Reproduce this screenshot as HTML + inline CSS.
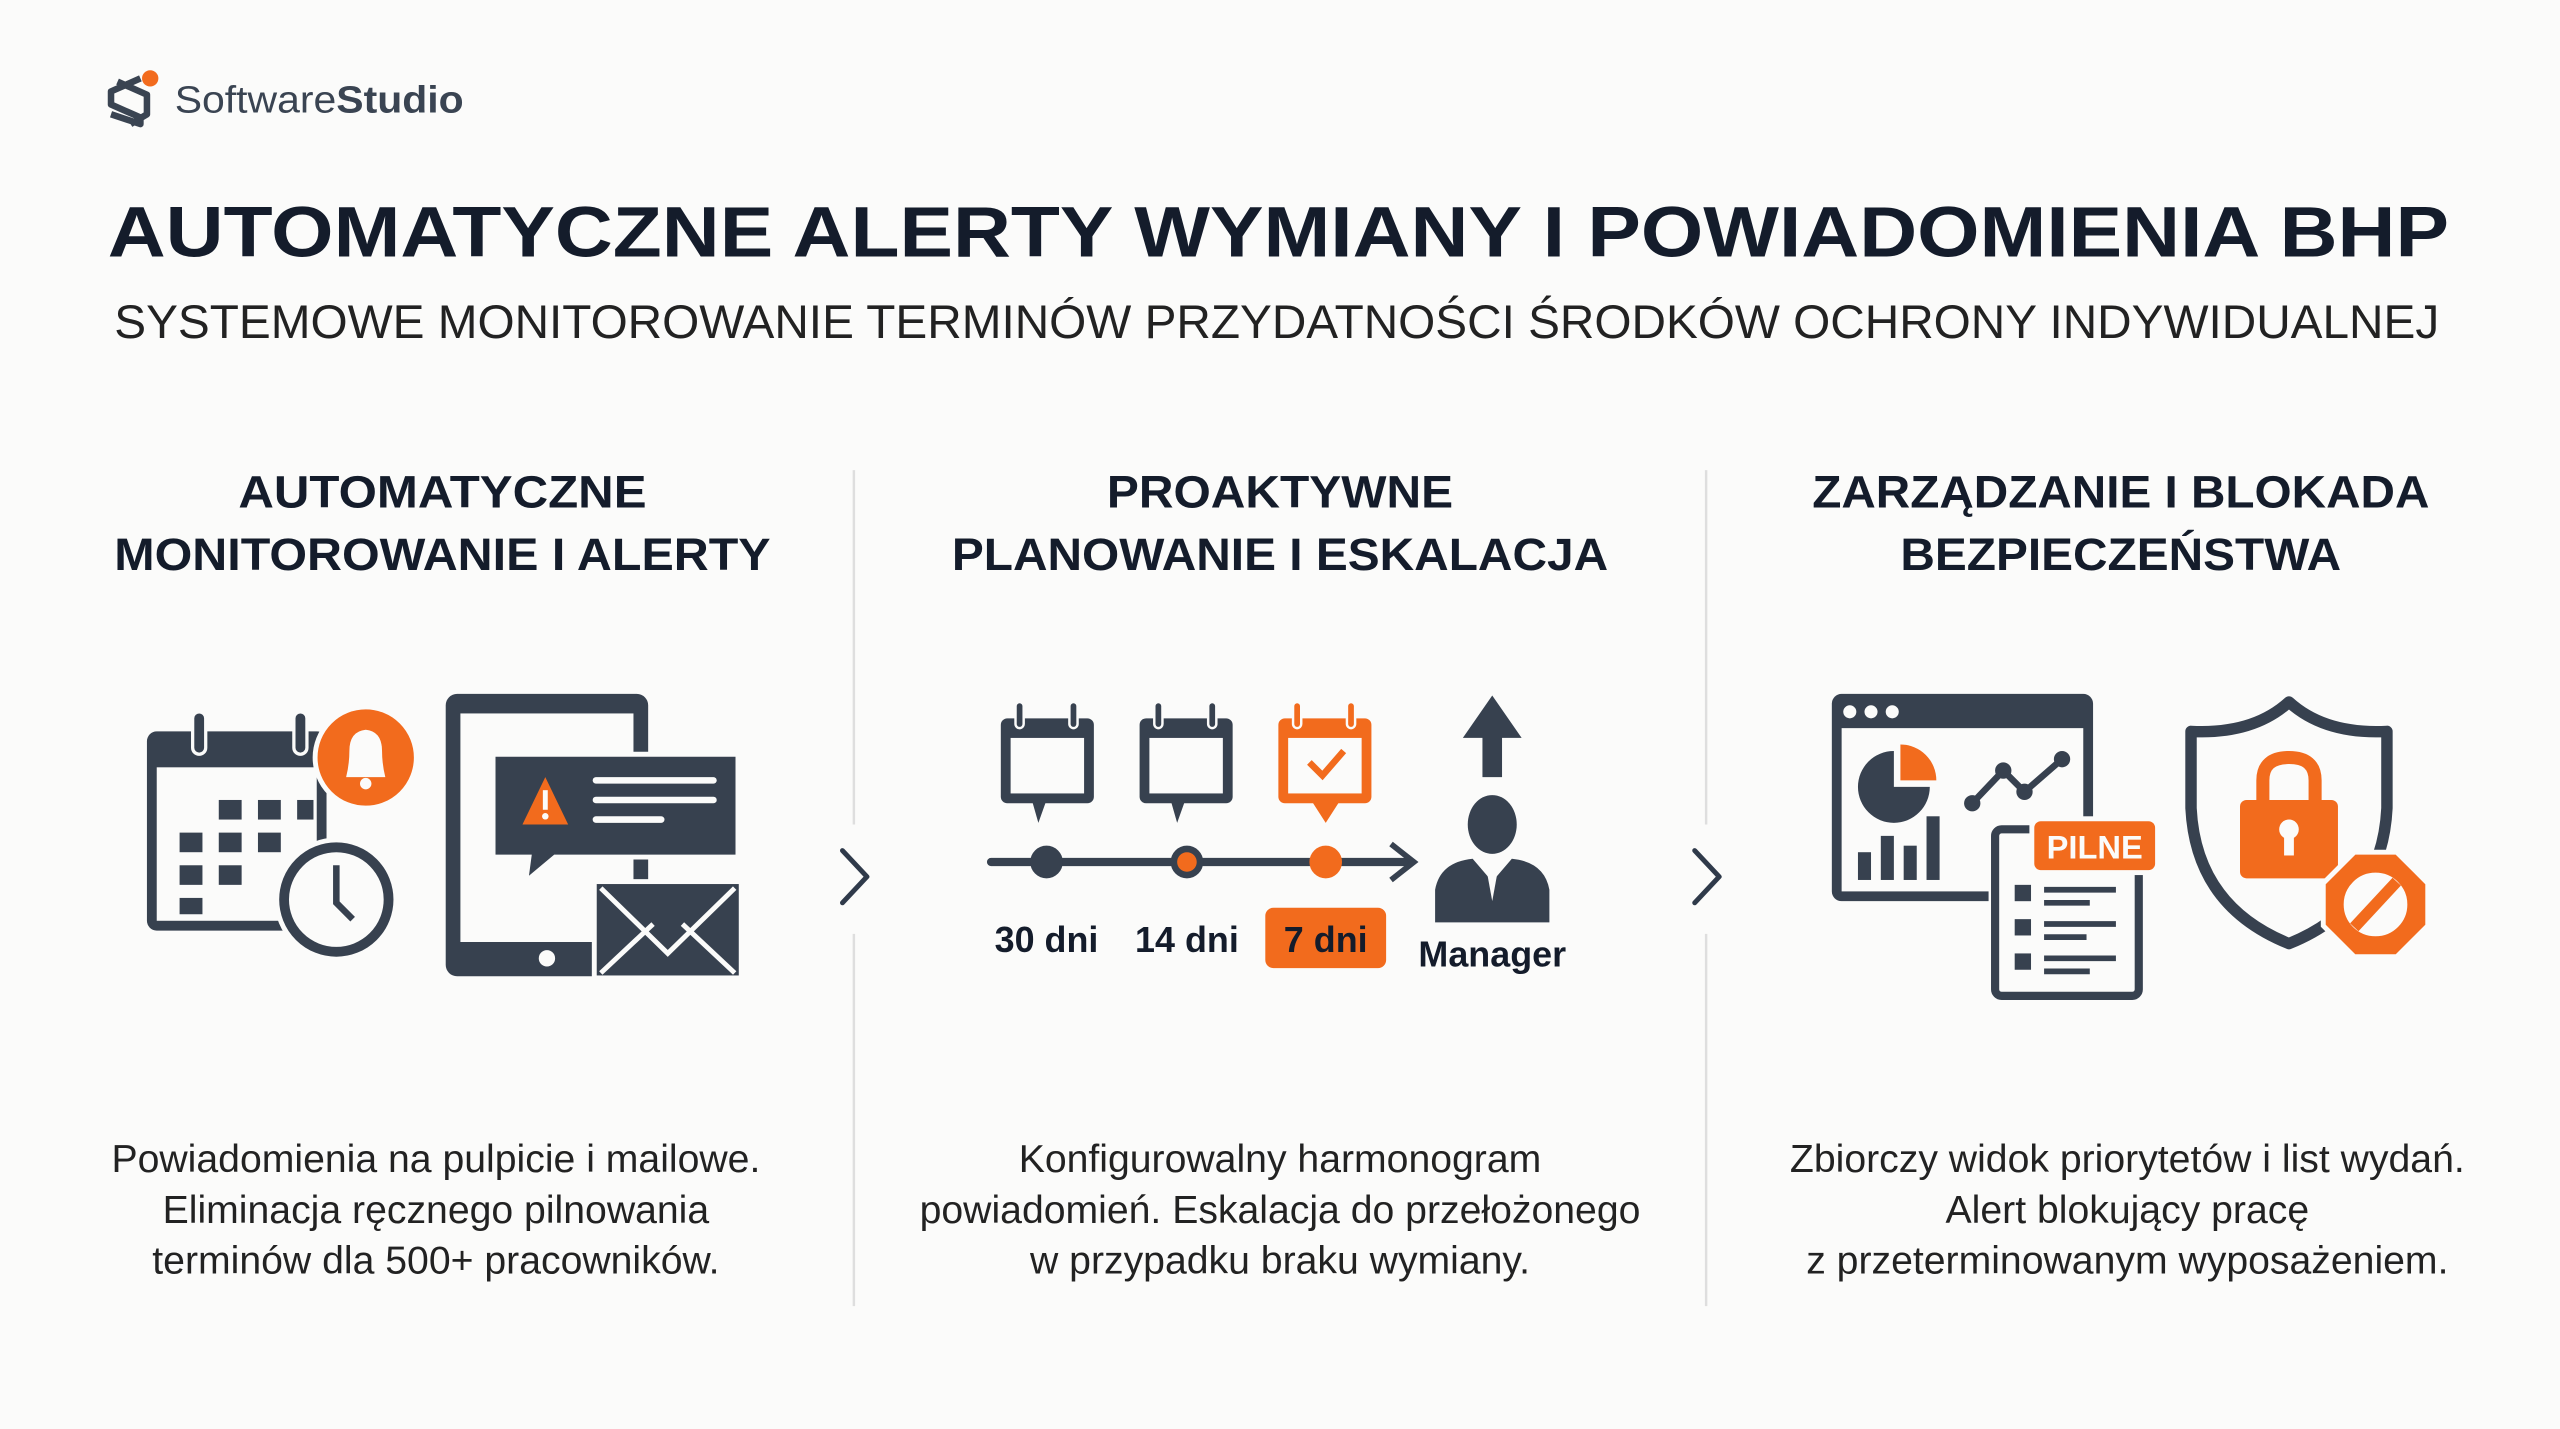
<!DOCTYPE html>
<html><head><meta charset="utf-8"><style>
html,body{margin:0;padding:0;background:#fbfbfa;}
svg{display:block;}
text{font-family:"Liberation Sans",sans-serif;}
</style></head><body>
<svg width="2560" height="1429" viewBox="0 0 1568 875.3" preserveAspectRatio="none" xmlns="http://www.w3.org/2000/svg">
<rect width="1568" height="876" fill="#fbfbfa"/>
<g fill="none" stroke="#3a4452" stroke-width="4" stroke-linejoin="round">
<path d="M86 48 L68 56 L68 64 L86 72 L86 76 L68 70"/>
<path d="M72 50 L90 58 L90 70 L80 76"/>
</g>
<circle cx="92" cy="48" r="5" fill="#f26b1d"/>
<text x="107" y="69" font-size="23" fill="#3a4452" textLength="177" lengthAdjust="spacingAndGlyphs">Software<tspan font-weight="bold">Studio</tspan></text>
<text x="783" y="157" font-size="44" font-weight="bold" fill="#141c2b" text-anchor="middle" textLength="1434" lengthAdjust="spacingAndGlyphs">AUTOMATYCZNE ALERTY WYMIANY I POWIADOMIENIA BHP</text>
<text x="782" y="207" font-size="29" fill="#222" text-anchor="middle" textLength="1424" lengthAdjust="spacingAndGlyphs">SYSTEMOWE MONITOROWANIE TERMINÓW PRZYDATNOŚCI ŚRODKÓW OCHRONY INDYWIDUALNEJ</text>
<g font-size="28" font-weight="bold" fill="#141c2b" text-anchor="middle">
<text x="271" y="311" textLength="250" lengthAdjust="spacingAndGlyphs">AUTOMATYCZNE</text>
<text x="271" y="349" textLength="402" lengthAdjust="spacingAndGlyphs">MONITOROWANIE I ALERTY</text>
<text x="784" y="311" textLength="212" lengthAdjust="spacingAndGlyphs">PROAKTYWNE</text>
<text x="784" y="349" textLength="402" lengthAdjust="spacingAndGlyphs">PLANOWANIE I ESKALACJA</text>
<text x="1299" y="311" textLength="378" lengthAdjust="spacingAndGlyphs">ZARZĄDZANIE I BLOKADA</text>
<text x="1299" y="349" textLength="270" lengthAdjust="spacingAndGlyphs">BEZPIECZEŃSTWA</text>
</g>
<g stroke="#dedede" stroke-width="1.5">
<line x1="523" y1="288" x2="523" y2="505"/><line x1="523" y1="572" x2="523" y2="800"/>
<line x1="1045" y1="288" x2="1045" y2="505"/><line x1="1045" y1="572" x2="1045" y2="800"/>
</g>
<g fill="none" stroke="#2f3a4a" stroke-width="3" stroke-linecap="round" stroke-linejoin="round">
<path d="M516 521 L531 537 L516 553"/><path d="M1038 521 L1053 537 L1038 553"/>
</g>
<g font-size="24" fill="#222" text-anchor="middle">
<text x="267" y="718">Powiadomienia na pulpicie i mailowe.</text>
<text x="267" y="749">Eliminacja ręcznego pilnowania</text>
<text x="267" y="780">terminów dla 500+ pracowników.</text>
<text x="784" y="718">Konfigurowalny harmonogram</text>
<text x="784" y="749">powiadomień. Eskalacja do przełożonego</text>
<text x="784" y="780">w przypadku braku wymiany.</text>
<text x="1303" y="718">Zbiorczy widok priorytetów i list wydań.</text>
<text x="1303" y="749">Alert blokujący pracę</text>
<text x="1303" y="780">z przeterminowanym wyposażeniem.</text>
</g>
<g fill="#37414f">
<rect x="90" y="448" width="110" height="122" rx="6"/>
<rect x="96" y="470" width="98" height="94" fill="#fbfbfa"/>
<rect x="118" y="436" width="8" height="26" rx="4" stroke="#fbfbfa" stroke-width="2"/>
<rect x="180" y="436" width="8" height="26" rx="4" stroke="#fbfbfa" stroke-width="2"/>
<rect x="134" y="490" width="14" height="12"/><rect x="158" y="490" width="14" height="12"/><rect x="182" y="490" width="10" height="12"/>
<rect x="110" y="510" width="14" height="12"/><rect x="134" y="510" width="14" height="12"/><rect x="158" y="510" width="14" height="12"/>
<rect x="110" y="530" width="14" height="12"/><rect x="134" y="530" width="14" height="12"/>
<rect x="110" y="550" width="14" height="10"/>
</g>
<circle cx="206" cy="551" r="38" fill="#fbfbfa"/>
<circle cx="206" cy="551" r="32" fill="none" stroke="#37414f" stroke-width="6"/>
<path d="M206 530 L206 553 L216 563" fill="none" stroke="#37414f" stroke-width="4"/>
<circle cx="224" cy="464" r="31" fill="#f26b1d" stroke="#fbfbfa" stroke-width="3"/>
<path d="M212 476 Q214 468 214 460 Q214 448 224 447 Q234 448 234 460 Q234 468 236 476 Z" fill="#fbfbfa"/>
<circle cx="224" cy="480" r="3.5" fill="#fbfbfa"/>
<rect x="273" y="425" width="124" height="173" rx="7" fill="#37414f"/>
<rect x="282" y="437" width="106" height="140" fill="#fbfbfa"/>
<circle cx="335" cy="587" r="5" fill="#fbfbfa"/>
<path d="M302 462 H452 V525 H340 L322 540 L324 525 H302 Z" fill="#37414f" stroke="#fbfbfa" stroke-width="3"/>
<path d="M334 476 L348 505 H320 Z" fill="#f26b1d"/>
<rect x="332.5" y="484" width="3" height="12" fill="#fbfbfa"/><circle cx="334" cy="500" r="2" fill="#fbfbfa"/>
<g stroke="#fbfbfa" stroke-width="4" stroke-linecap="round"><line x1="365" y1="478" x2="437" y2="478"/><line x1="365" y1="490" x2="437" y2="490"/><line x1="365" y1="502" x2="405" y2="502"/></g>
<line x1="392" y1="527" x2="392" y2="540" stroke="#37414f" stroke-width="3"/>
<rect x="364" y="540" width="90" height="59" fill="#37414f" stroke="#fbfbfa" stroke-width="3"/>
<path d="M368 544 L409 584 L450 544 M368 596 L400 566 M450 596 L418 566" fill="none" stroke="#fbfbfa" stroke-width="3"/>
<g id="cal">
<rect x="613" y="440" width="57" height="52" rx="4" fill="#37414f"/>
<rect x="619" y="452" width="45" height="34" fill="#fbfbfa"/>
<path d="M632 490 L641 490 L636 504 Z" fill="#37414f"/>
<rect x="622" y="430" width="5" height="16" rx="2.5" fill="#37414f" stroke="#fbfbfa" stroke-width="1.5"/>
<rect x="655" y="430" width="5" height="16" rx="2.5" fill="#37414f" stroke="#fbfbfa" stroke-width="1.5"/>
</g>
<use href="#cal" x="85"/>
<rect x="783" y="440" width="57" height="52" rx="4" fill="#f26b1d"/>
<rect x="789" y="452" width="45" height="34" fill="#fbfbfa"/>
<path d="M803 490 L821 490 L812 504 Z" fill="#f26b1d"/>
<rect x="792" y="430" width="5" height="16" rx="2.5" fill="#f26b1d" stroke="#fbfbfa" stroke-width="1.5"/>
<rect x="825" y="430" width="5" height="16" rx="2.5" fill="#f26b1d" stroke="#fbfbfa" stroke-width="1.5"/>
<path d="M802 467 L810 475 L823 460" fill="none" stroke="#f26b1d" stroke-width="4"/>
<line x1="607" y1="528" x2="862" y2="528" stroke="#37414f" stroke-width="5" stroke-linecap="round"/>
<path d="M852 517 L866 528 L852 539" fill="none" stroke="#37414f" stroke-width="3.5"/>
<circle cx="641" cy="528" r="10" fill="#37414f"/>
<circle cx="727" cy="528" r="10" fill="#37414f"/><circle cx="727" cy="528" r="6" fill="#f26b1d"/>
<circle cx="812" cy="528" r="10" fill="#f26b1d"/>
<rect x="775" y="556" width="74" height="37" rx="5" fill="#f26b1d"/>
<g font-size="22" font-weight="bold" fill="#141c2b" text-anchor="middle">
<text x="641" y="583">30 dni</text><text x="727" y="583">14 dni</text><text x="812" y="583">7 dni</text>
<text x="914" y="592">Manager</text>
</g>
<path d="M914 426 L932 452 H920 V476 H908 V452 H896 Z" fill="#37414f"/>
<ellipse cx="914" cy="505" rx="15" ry="18" fill="#37414f"/>
<path d="M879 565 V545 Q882 528 902 526 L914 540 L926 526 Q946 528 949 545 V565 Z" fill="#37414f"/>
<path d="M910 530 L914 552 L918 530 Z" fill="#fbfbfa"/>
<rect x="1122" y="425" width="160" height="127" rx="6" fill="#37414f"/>
<rect x="1128" y="446" width="148" height="100" fill="#fbfbfa"/>
<circle cx="1133" cy="436" r="4" fill="#fbfbfa"/><circle cx="1146" cy="436" r="4" fill="#fbfbfa"/><circle cx="1159" cy="436" r="4" fill="#fbfbfa"/>
<path d="M1160 460 A22 22 0 1 0 1182 482 L1160 482 Z" fill="#37414f"/>
<path d="M1164 456 A22 22 0 0 1 1186 478 L1164 478 Z" fill="#f26b1d"/>
<path d="M1208 492 L1227 472 L1240 485 L1263 465" fill="none" stroke="#37414f" stroke-width="4"/>
<g fill="#37414f"><circle cx="1208" cy="492" r="5"/><circle cx="1227" cy="472" r="5"/><circle cx="1240" cy="485" r="5"/><circle cx="1263" cy="465" r="5"/>
<rect x="1138" y="522" width="8" height="17"/><rect x="1152" y="512" width="8" height="27"/><rect x="1166" y="518" width="8" height="21"/><rect x="1180" y="500" width="8" height="39"/></g>
<rect x="1218" y="504" width="96" height="110" fill="#fbfbfa"/>
<rect x="1222" y="508" width="88" height="102" rx="4" fill="none" stroke="#37414f" stroke-width="5"/>
<rect x="1243" y="500" width="80" height="36" fill="#fbfbfa"/>
<rect x="1246" y="503" width="74" height="30" rx="4" fill="#f26b1d"/>
<text x="1283" y="526" font-size="20" font-weight="bold" fill="#fbfbfa" text-anchor="middle">PILNE</text>
<g fill="#37414f"><rect x="1234" y="542" width="10" height="10"/><rect x="1234" y="563" width="10" height="10"/><rect x="1234" y="584" width="10" height="10"/></g>
<g stroke="#37414f" stroke-width="3.5"><line x1="1252" y1="545" x2="1296" y2="545"/><line x1="1252" y1="553" x2="1280" y2="553"/><line x1="1252" y1="566" x2="1296" y2="566"/><line x1="1252" y1="574" x2="1278" y2="574"/><line x1="1252" y1="587" x2="1296" y2="587"/><line x1="1252" y1="595" x2="1280" y2="595"/></g>
<path d="M1402 430 Q1380 450 1342 448 V495 Q1345 555 1402 578 Q1459 555 1462 495 V448 Q1424 450 1402 430 Z" fill="none" stroke="#37414f" stroke-width="7" stroke-linejoin="round"/>
<path d="M1386 492 V478 Q1386 464 1402 464 Q1418 464 1418 478 V492" fill="none" stroke="#f26b1d" stroke-width="8"/>
<rect x="1372" y="490" width="60" height="48" rx="4" fill="#f26b1d"/>
<circle cx="1402" cy="508" r="6" fill="#fbfbfa"/><rect x="1399" y="510" width="6" height="14" fill="#fbfbfa"/>
<polygon points="1442,522 1468,522 1487,541 1487,567 1468,586 1442,586 1423,567 1423,541" fill="#f26b1d" stroke="#fbfbfa" stroke-width="3"/>
<circle cx="1455" cy="554" r="20" fill="#fbfbfa"/>
<line x1="1442" y1="568" x2="1468" y2="540" stroke="#f26b1d" stroke-width="7"/>
<circle cx="1455" cy="554" r="20" fill="none" stroke="#f26b1d" stroke-width="1"/>
</svg>
</body></html>
